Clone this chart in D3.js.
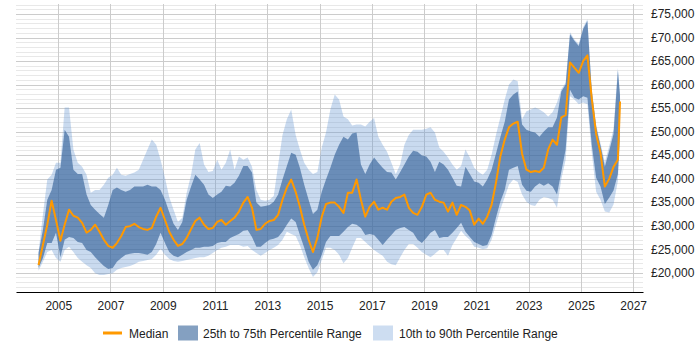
<!DOCTYPE html>
<html>
<head>
<meta charset="utf-8">
<script src="https://cdn.jsdelivr.net/npm/d3@7"></script>
<style>
  body { margin: 0; background: #fff; }
  text { font-family: "Liberation Sans", Arial, sans-serif; }
</style>
</head>
<body>
<svg id="chart" width="700" height="350"></svg>
<script>
// sample dates (two-monthly)
var months = [
  '2004-04','2004-06','2004-08','2004-10','2004-12','2005-02','2005-04','2005-06','2005-08','2005-10','2005-12',
  '2006-02','2006-04','2006-06','2006-08','2006-10','2006-12','2007-02','2007-04','2007-06','2007-08','2007-10','2007-12',
  '2008-02','2008-04','2008-06','2008-08','2008-10','2008-12','2009-02','2009-04','2009-06','2009-08','2009-10','2009-12',
  '2010-02','2010-04','2010-06','2010-08','2010-10','2010-12','2011-02','2011-04','2011-06','2011-08','2011-10','2011-12',
  '2012-02','2012-04','2012-06','2012-08','2012-10','2012-12','2013-02','2013-04','2013-06','2013-08','2013-10','2013-12',
  '2014-02','2014-04','2014-06','2014-08','2014-10','2014-12','2015-02','2015-04','2015-06','2015-08','2015-10','2015-12',
  '2016-02','2016-04','2016-06','2016-08','2016-10','2016-12','2017-02','2017-04','2017-06','2017-08','2017-10','2017-12',
  '2018-02','2018-04','2018-06','2018-08','2018-10','2018-12','2019-02','2019-04','2019-06','2019-08','2019-10','2019-12',
  '2020-02','2020-04','2020-06','2020-08','2020-10','2020-12','2021-02','2021-04','2021-06','2021-08','2021-10','2021-12',
  '2022-02','2022-04','2022-06','2022-08','2022-10','2022-12','2023-02','2023-04','2023-06','2023-08','2023-10','2023-12',
  '2024-02','2024-04','2024-06','2024-08','2024-10','2024-12','2025-02','2025-04','2025-06','2025-08','2025-10','2025-12',
  '2026-02','2026-04','2026-06','2026-07'
]

var median = [
  21600,25900,30200,35300,31200,26800,30200,33400,32100,31700,30600,
  28500,29100,30200,28700,27000,25700,25300,26300,27800,29700,29900,30400,
  29700,29300,29100,29500,31900,33800,31200,28700,27000,25700,26100,27400,
  29300,31000,31700,30200,29300,29500,30800,31200,30200,31000,31700,33000,
  34900,36100,33800,29100,29300,30400,31000,31200,32300,35500,38100,39800,
  37200,34000,30200,27000,24400,27400,31900,34600,34900,34900,34000,32700,
  37000,37000,39800,35500,31900,34000,35100,33400,33800,33400,35100,35900,
  36100,36600,33800,32700,32300,34000,36600,37000,35500,35100,34900,33000,
  34900,32300,34400,34000,33200,30200,31500,30400,31900,34400,39100,44700,
  48300,50900,51700,52100,45300,41900,41400,41600,41400,42300,46200,48300,
  47200,53000,53500,64700,63600,62500,65000,66200,57000,49500,45500,38300,
  40000,42500,44000,56400
]

var p25 = [
  21000,23100,26300,26300,28500,23300,27000,27600,27400,26500,26300,
  24800,24400,23300,22300,21400,20800,21000,22300,23100,23800,24000,24200,
  24200,24000,23800,24400,26100,28500,26300,24400,23600,23300,23800,24400,
  24800,25300,25300,25500,25500,25700,26300,26500,26500,27400,27800,28200,
  28900,29100,27600,25500,25500,26300,27000,27200,27600,28700,30200,31500,
  30800,28000,25300,22300,20600,21600,23800,26500,27800,27800,27800,28700,
  29700,30400,30200,29500,28000,28200,28000,27000,25900,27000,28000,29100,
  29500,29700,29100,28500,27000,26300,27400,28500,29100,27400,27600,27600,
  28500,29500,30600,28700,27600,26500,26100,25700,25900,28000,31700,35100,
  37600,41900,42300,42700,38700,37400,37200,38300,39000,38500,39000,38300,
  36600,41400,46200,58900,57200,56800,57500,57200,47200,40200,38300,34600,
  36000,37500,41000,50000
]

var p75 = [
  24200,29100,35500,37600,41900,42300,50400,48900,41900,41000,41000,
  36600,34400,33400,32500,31700,34400,37600,38100,37600,37200,37600,38300,
  38300,38300,38700,38300,38300,37600,35500,32900,30400,29100,30800,35500,
  38300,40800,39800,38700,36600,35900,36600,37200,38500,38300,39100,40600,
  42700,42700,41300,34900,34000,34200,34400,35100,36600,39800,42700,45500,
  45100,42300,38700,35500,32500,33400,37200,39800,42300,45100,47200,48900,
  48300,49600,49800,43000,41000,43000,44500,43400,42300,41400,41300,39800,
  41400,43000,44700,45900,45700,44900,44700,43600,41400,43600,43000,41900,
  40200,38500,38300,42500,41000,39400,39100,38300,39800,41900,45300,48800,
  52100,56800,57900,58500,51500,50400,50000,49800,48900,50000,50900,50900,
  53000,58500,60000,70700,69300,68200,71800,73500,58500,51000,47000,42500,
  46000,49500,63000,57500
]

var p10 = [
  20400,22300,24400,24800,23100,22300,24800,25500,24400,23100,22300,
  21600,21000,19900,19500,19500,19700,19900,20600,21000,21200,21400,21800,
  22300,22500,22700,22900,23800,25100,23800,22900,22500,22300,22500,22700,
  22900,23100,23300,23300,23600,24200,24800,25300,25500,25900,25900,25900,
  25500,25700,24800,24200,23600,24200,24800,25300,25900,27000,28700,28200,
  27800,25900,23300,21000,19100,20100,22700,25300,25300,24800,23800,22000,
  23100,25300,27400,27400,26500,25700,24800,24200,23600,22300,21800,21600,
  23300,24800,26100,26100,25300,24400,23800,23300,24000,24800,24800,23600,
  25900,27400,28900,27800,27000,25500,25300,25000,25200,27000,30200,33400,
  36100,38700,39800,39300,36600,35100,34400,34200,35500,36100,35900,35500,
  33800,39800,44000,57500,56800,55800,56200,55800,45500,37200,35500,33000,
  32800,34500,39500,48500
]

var p90 = [
  24400,32300,39800,40800,43400,43400,55100,55100,46200,43400,42500,
  40800,37000,37600,37600,38700,40200,40800,42300,40800,40600,41000,41300,
  41900,44000,46200,48300,47200,44000,40200,36100,33400,30800,31700,37000,
  40800,46200,47600,43000,41400,41600,44000,41900,43400,46200,41900,44700,
  44000,44500,42500,37600,35500,35300,35500,36300,42900,49300,52600,54700,
  49300,46200,43400,41900,41000,41400,46600,49800,54700,57900,56800,53200,
  52600,51300,51500,51500,51100,52100,52900,48900,47200,45700,43400,41000,
  43000,47200,49300,50400,50400,50400,50600,50900,49800,46600,45700,44500,
  43000,41900,42700,46200,44500,42300,41400,40800,41900,45100,49300,53000,
  56800,60000,61100,60700,52600,54300,54700,55100,54700,54100,53200,54100,
  56200,59000,60400,71100,69600,68600,72200,73900,59000,51500,47500,43500,
  47000,50500,63500,58000
]

var yearTicks = [2005, 2007, 2009, 2011, 2013, 2015, 2017, 2019, 2021, 2023, 2025, 2027]
var salaryTicks = [20000, 25000, 30000, 35000, 40000, 45000, 50000, 55000, 60000, 65000, 70000, 75000]

var parseMonth = d3.timeParse('%Y-%m')
var data = months.map(function (m, i) {
  return { date: parseMonth(m), med: median[i], p25: p25[i], p75: p75[i], p10: p10[i], p90: p90[i] }
})

var svg = d3.select('#chart')

var x = d3.scaleTime()
  .domain([new Date(2003, 4, 22), new Date(2027, 4, 18)])
  .range([16, 643])

var y = d3.scaleLinear()
  .domain([16000, 77000])
  .range([291.5, 4.6])

var grid = svg.append('g')

// minor horizontal grid every £1,000
grid.selectAll('line.minor')
  .data(d3.range(17000, 77001, 1000).filter(function (v) { return v % 5000 !== 0 }))
  .join('line')
  .attr('class', 'minor')
  .attr('x1', 16).attr('x2', 643)
  .attr('y1', function (d) { return Math.round(y(d)) + 0.5 })
  .attr('y2', function (d) { return Math.round(y(d)) + 0.5 })
  .attr('stroke', '#e8e8e8')

grid.selectAll('line.major')
  .data(salaryTicks)
  .join('line')
  .attr('class', 'major')
  .attr('x1', 16).attr('x2', 643)
  .attr('y1', function (d) { return Math.round(y(d)) + 0.5 })
  .attr('y2', function (d) { return Math.round(y(d)) + 0.5 })
  .attr('stroke', '#cccccc')

grid.selectAll('line.vert')
  .data(yearTicks)
  .join('line')
  .attr('class', 'vert')
  .attr('x1', function (d) { return Math.round(x(new Date(d, 0, 1))) + 0.5 })
  .attr('x2', function (d) { return Math.round(x(new Date(d, 0, 1))) + 0.5 })
  .attr('y1', 4).attr('y2', 292)
  .attr('stroke', '#cccccc')

var outer = d3.area()
  .x(function (d) { return x(d.date) })
  .y0(function (d) { return y(d.p10) })
  .y1(function (d) { return y(d.p90) })

var inner = d3.area()
  .x(function (d) { return x(d.date) })
  .y0(function (d) { return y(d.p25) })
  .y1(function (d) { return y(d.p75) })

var line = d3.line()
  .x(function (d) { return x(d.date) })
  .y(function (d) { return y(d.med) })

svg.append('path').datum(data)
  .attr('d', outer)
  .attr('fill', 'rgba(100,150,210,0.35)')

svg.append('path').datum(data)
  .attr('d', inner)
  .attr('fill', 'rgba(50,97,152,0.63)')

svg.append('path').datum(data)
  .attr('d', line)
  .attr('fill', 'none')
  .attr('stroke', '#ff9900')
  .attr('stroke-width', 2)
  .attr('stroke-linejoin', 'round')

// x axis
var xAxis = svg.append('g')
  .attr('transform', 'translate(0,292)')
  .call(d3.axisBottom(x)
    .tickValues(yearTicks.map(function (yr) { return new Date(yr, 0, 1) }))
    .tickFormat(d3.timeFormat('%Y'))
    .tickSize(0)
    .tickPadding(9))
xAxis.select('.domain').attr('stroke', '#000').attr('stroke-width', 1.2)
xAxis.selectAll('text').attr('font-size', 12).attr('fill', '#222')
  .attr('font-family', '"Liberation Sans", Arial, sans-serif')

// y axis labels on the right
var yAxis = svg.append('g')
  .attr('transform', 'translate(643,0)')
  .call(d3.axisRight(y)
    .tickValues(salaryTicks)
    .tickFormat(function (d) { return '£' + d3.format(',')(d) })
    .tickSize(0)
    .tickPadding(8))
yAxis.select('.domain').remove()
yAxis.selectAll('text').attr('font-size', 12).attr('fill', '#222')
  .attr('font-family', '"Liberation Sans", Arial, sans-serif')

// legend
var legend = svg.append('g').attr('transform', 'translate(0,333)')
legend.append('line')
  .attr('x1', 103).attr('x2', 122).attr('y1', 0).attr('y2', 0)
  .attr('stroke', '#ff9900').attr('stroke-width', 3)
legend.append('text').attr('x', 129).attr('y', 4.5).attr('font-size', 12).attr('fill', '#222').text('Median')
legend.append('rect').attr('x', 178).attr('y', -7.5).attr('width', 20).attr('height', 15)
  .attr('fill', 'rgba(50,97,152,0.6)')
legend.append('text').attr('x', 203).attr('y', 4.5).attr('font-size', 12).attr('fill', '#222').text('25th to 75th Percentile Range')
legend.append('rect').attr('x', 373).attr('y', -7.5).attr('width', 20).attr('height', 15)
  .attr('fill', 'rgba(100,150,210,0.32)')
legend.append('text').attr('x', 399).attr('y', 4.5).attr('font-size', 12).attr('fill', '#222').text('10th to 90th Percentile Range')
</script>
</body>
</html>
